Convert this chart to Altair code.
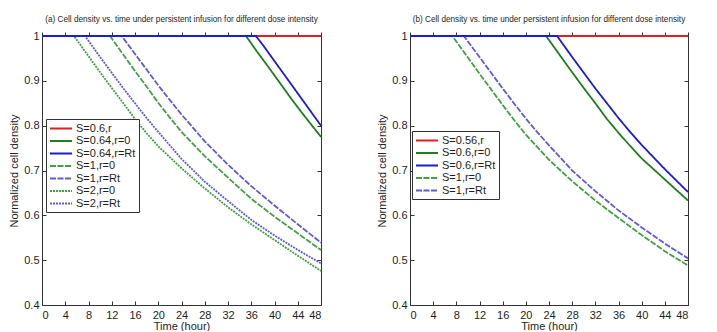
import altair as alt
import pandas as pd

# ---------------- text ----------------
A_TITLE = "(a) Cell density vs. time under persistent infusion for different dose intensity"
B_TITLE = "(b) Cell density vs. time under persistent infusion for different dose intensity"
X_TITLE = "Time (hour)"
Y_TITLE = "Normalized cell density"
X_TICKS = [0, 4, 8, 12, 16, 20, 24, 28, 32, 36, 40, 44, 48]
Y_TICKS = [0.4, 0.5, 0.6, 0.7, 0.8, 0.9, 1.0]

# ---------------- panel (a) data ----------------
A_NAMES = ["S=0.6,r", "S=0.64,r=0", "S=0.64,r=Rt", "S=1,r=0", "S=1,r=Rt", "S=2,r=0", "S=2,r=Rt"]

A_06_T = [0, 48]
A_06_V = [1, 1]
A_064_0_T = [0, 35.1, 37, 39, 41, 43, 45, 48]
A_064_0_V = [1, 1, 0.965, 0.93, 0.894, 0.858, 0.824, 0.775]
A_064_RT_T = [0, 36.8, 38, 40, 42, 44, 46, 48]
A_064_RT_V = [1, 1, 0.98, 0.944, 0.908, 0.872, 0.836, 0.80]
A_1_0_T = [0, 11.7, 14, 16, 18, 20, 22, 24, 28, 32, 36, 40, 44, 48]
A_1_0_V = [1, 1, 0.958, 0.922, 0.887, 0.851, 0.818, 0.786, 0.732, 0.684, 0.637, 0.597, 0.56, 0.5225]
A_1_RT_T = [0, 13.7, 16, 18, 20, 22, 24, 28, 32, 36, 40, 44, 48]
A_1_RT_V = [1, 1, 0.96, 0.925, 0.89, 0.857, 0.825, 0.765, 0.713, 0.665, 0.622, 0.58, 0.539]
A_2_0_T = [0, 5.5, 8, 10, 12, 14, 16, 18, 20, 24, 28, 32, 36, 40, 44, 48]
A_2_0_V = [1, 1, 0.955, 0.919, 0.884, 0.85, 0.815, 0.783, 0.754, 0.705, 0.66, 0.618, 0.58, 0.545, 0.51, 0.476]
A_2_RT_T = [0, 7.4, 10, 12, 14, 16, 18, 20, 24, 28, 32, 36, 40, 44, 48]
A_2_RT_V = [1, 1, 0.953, 0.918, 0.883, 0.85, 0.817, 0.786, 0.726, 0.675, 0.632, 0.59, 0.555, 0.523, 0.493]

A_T = [A_06_T, A_064_0_T, A_064_RT_T, A_1_0_T, A_1_RT_T, A_2_0_T, A_2_RT_T]
A_V = [A_06_V, A_064_0_V, A_064_RT_V, A_1_0_V, A_1_RT_V, A_2_0_V, A_2_RT_V]

# ---------------- panel (b) data ----------------
B_NAMES = ["S=0.56,r", "S=0.6,r=0", "S=0.6,r=Rt", "S=1,r=0", "S=1,r=Rt"]

B_056_T = [0, 48]
B_056_V = [1, 1]
B_06_0_T = [0, 23.5, 26, 28, 30, 32, 34, 36, 38, 40, 44, 48]
B_06_0_V = [1, 1, 0.955, 0.919, 0.884, 0.85, 0.815, 0.784, 0.755, 0.727, 0.68, 0.633]
B_06_RT_T = [0, 25.4, 28, 30, 32, 34, 36, 38, 40, 44, 48]
B_06_RT_V = [1, 1, 0.953, 0.918, 0.883, 0.85, 0.817, 0.786, 0.757, 0.703, 0.652]
B_1_0_T = [0, 7.3, 10, 12, 14, 16, 18, 20, 24, 28, 32, 36, 40, 44, 48]
B_1_0_V = [1, 1, 0.952, 0.916, 0.881, 0.846, 0.812, 0.78, 0.724, 0.676, 0.633, 0.594, 0.556, 0.52, 0.488]
B_1_RT_T = [0, 9.3, 12, 14, 16, 18, 20, 22, 24, 28, 32, 36, 40, 44, 48]
B_1_RT_V = [1, 1, 0.953, 0.918, 0.883, 0.849, 0.816, 0.785, 0.756, 0.70, 0.654, 0.611, 0.573, 0.537, 0.504]

B_T = [B_056_T, B_06_0_T, B_06_RT_T, B_1_0_T, B_1_RT_T]
B_V = [B_056_V, B_06_0_V, B_06_RT_V, B_1_0_V, B_1_RT_V]

# ---------------- styles ----------------
RED = "#e41e1e"
GREEN = "#1b801b"
BLUE = "#1c1cd0"
GREEN_T = "#45a045"
BLUE_T = "#5c5cdc"

A_COLORS = [RED, GREEN, BLUE, GREEN_T, BLUE_T, GREEN_T, BLUE_T]
A_DASH = [[1, 0], [1, 0], [1, 0], [6, 1.5], [6, 1.5], [2, 1], [2, 1]]
A_WIDTH = [1.8, 1.8, 1.8, 1.2, 1.2, 1.2, 1.2]
A_ORDER = [0, 1, 3, 4, 5, 6, 2]

B_COLORS = [RED, GREEN, BLUE, GREEN_T, BLUE_T]
B_DASH = [[1, 0], [1, 0], [1, 0], [6, 1.5], [6, 1.5]]
B_WIDTH = [1.8, 1.8, 1.8, 1.2, 1.2]
B_ORDER = [0, 1, 3, 4, 2]

FONT = "Liberation Sans"
TXT = "#1e1e1e"
FRAME = "#333333"


def deco_axis(orient, values, offset, ticks=True):
    opts = dict(orient=orient, labels=False, title=None, domain=True, domainColor=FRAME,
                minExtent=0, maxExtent=0, offset=offset, grid=False)
    if ticks:
        opts.update(values=values, tickSize=4, tickColor=FRAME)
    else:
        opts.update(ticks=False)
    return alt.Axis(**opts)


def panel(title, names, ts, vs, colors, dashes, widths, order, lx, ly, w, h):
    rows = []
    for name, tl, vl in zip(names, ts, vs):
        for t, v in zip(tl, vl):
            rows.append({"series": name, "t": t, "v": v})
    df = pd.DataFrame(rows)

    sx = alt.Scale(domain=[0, 48], nice=False)
    sy = alt.Scale(domain=[0.4, 1.0], nice=False, zero=False)
    leg = alt.Legend(
        title=None, orient="none", legendX=lx, legendY=ly,
        symbolType="M-1,0H3", symbolSize=121, symbolStrokeWidth=1.5,
        labelFontSize=11, labelFont=FONT, labelColor=TXT,
        rowPadding=0.5, padding=3, strokeColor=FRAME, fillColor="white",
        cornerRadius=0, labelOffset=14,
    )
    cs = alt.Scale(domain=names, range=colors)
    ds = alt.Scale(domain=names, range=dashes)
    ws = alt.Scale(domain=names, range=widths)

    base = alt.Chart(df)
    frame_src = base.transform_filter(alt.datum.series == names[0]).mark_line(strokeOpacity=0)
    layers = [
        # bottom frame (ticks pointing up) + left frame (ticks pointing right)
        frame_src.encode(
            x=alt.X("t:Q", scale=sx, axis=deco_axis("top", X_TICKS, -h)),
            y=alt.Y("v:Q", scale=sy, axis=deco_axis("right", Y_TICKS, -w)),
        ),
        # top frame (ticks outward) + right frame (ticks pointing left)
        frame_src.encode(
            x=alt.X("t:Q", scale=sx, axis=deco_axis("top", X_TICKS, 0)),
            y=alt.Y("v:Q", scale=sy, axis=deco_axis("left", Y_TICKS, -w)),
        ),
    ]
    for k, i in enumerate(order):
        if k == 0:
            xa = alt.Axis(values=X_TICKS, title=X_TITLE, ticks=False, domain=False,
                          labelPadding=4, titlePadding=0, grid=False)
            ya = alt.Axis(values=Y_TICKS, title=Y_TITLE, ticks=False, domain=False,
                          labelPadding=3, format="~g", titlePadding=4, grid=False)
        else:
            xa = None
            ya = None
        layers.append(
            base.transform_filter(alt.datum.series == names[i])
            .mark_line(clip=False, strokeCap="butt")
            .encode(
                x=alt.X("t:Q", scale=sx, axis=xa),
                y=alt.Y("v:Q", scale=sy, axis=ya),
                color=alt.Color("series:N", scale=cs, legend=leg),
                strokeDash=alt.StrokeDash("series:N", scale=ds, legend=leg),
                strokeWidth=alt.StrokeWidth("series:N", scale=ws, legend=None),
            )
        )
    return (
        alt.layer(*layers)
        .resolve_axis(x="independent", y="independent")
        .properties(
            width=w, height=h,
            title=alt.TitleParams(text=title, fontSize=8.2, font=FONT, fontWeight="normal",
                                  color=TXT, anchor="middle", offset=6),
        )
    )


left = panel(A_TITLE, A_NAMES, A_T, A_V, A_COLORS, A_DASH, A_WIDTH, A_ORDER, 4, 83, 279, 269)
right = panel(B_TITLE, B_NAMES, B_T, B_V, B_COLORS, B_DASH, B_WIDTH, B_ORDER, 2, 95, 278, 269)

chart = (
    alt.hconcat(left, right, spacing=51)
    .resolve_scale(color="independent", strokeDash="independent", strokeWidth="independent")
    .resolve_legend(color="independent", strokeDash="independent")
    .properties(padding={"left": 8, "top": 14, "right": 0, "bottom": 0}, background="white")
    .configure_view(strokeWidth=0)
    .configure_axis(labelFont=FONT, labelFontSize=11, labelColor=TXT, titleFont=FONT,
                    titleFontSize=11, titleFontWeight="normal", titleColor=TXT,
                    tickColor=FRAME, domainColor=FRAME, grid=False)
)

chart.save("out.html", embed_options={"renderer": "svg", "actions": False})
